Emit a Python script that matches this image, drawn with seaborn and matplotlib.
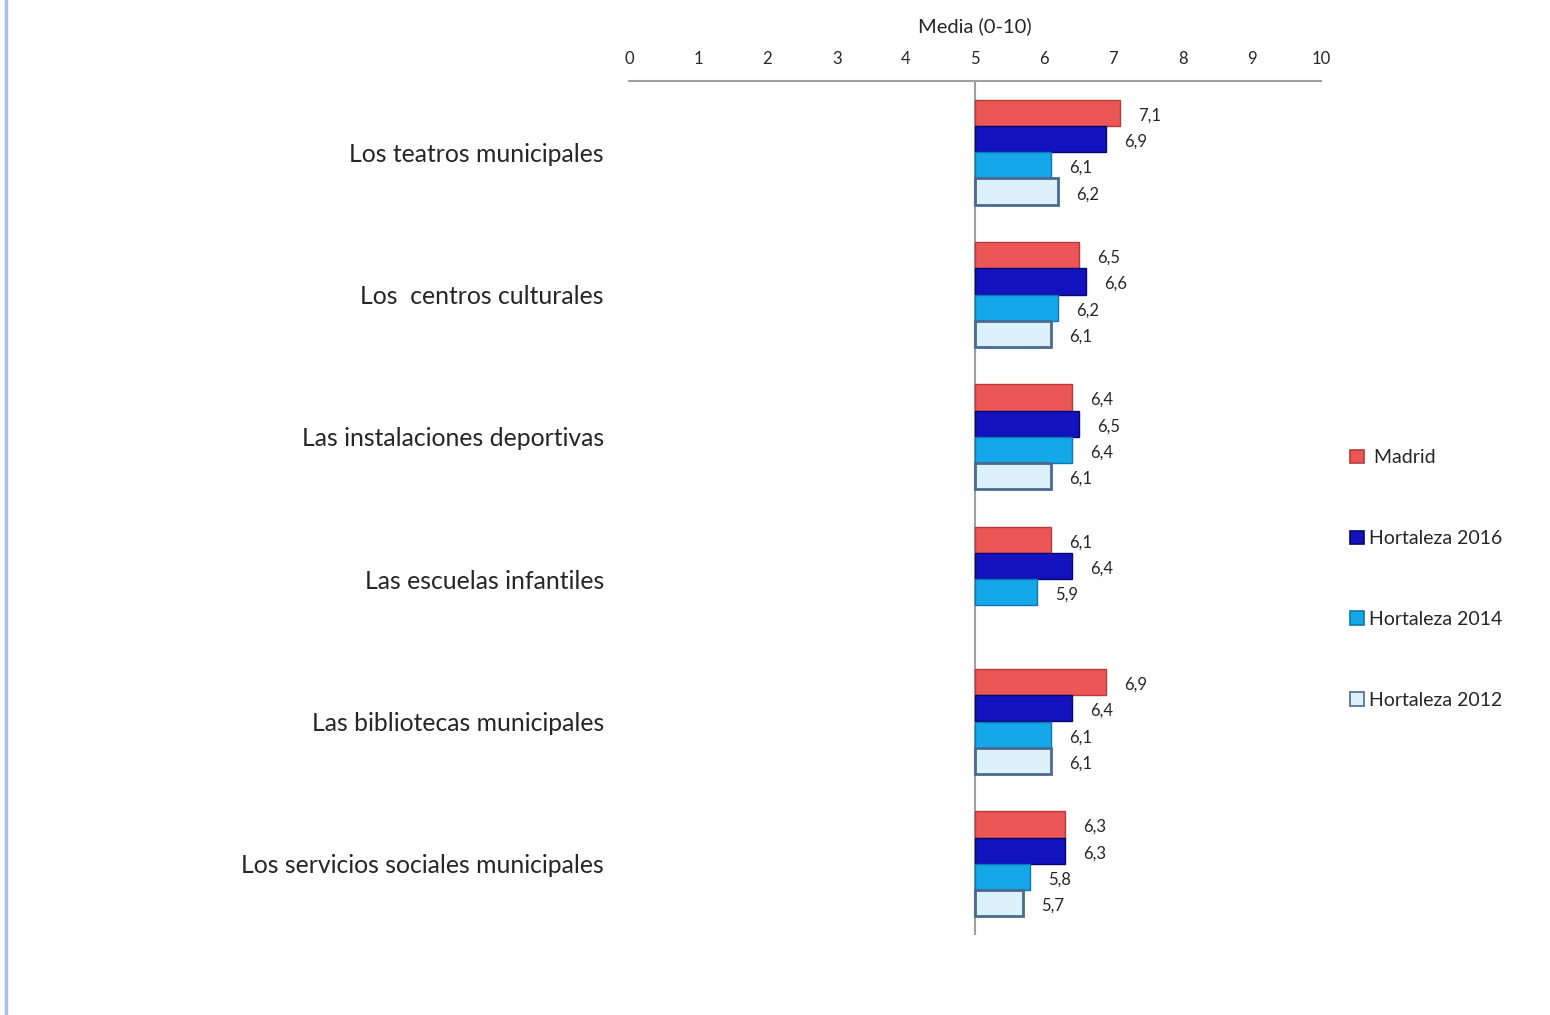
import numpy as np
import pandas as pd
import matplotlib
matplotlib.use("Agg")
import matplotlib.pyplot as plt
import seaborn as sns
from matplotlib.lines import Line2D
from matplotlib.patches import Patch

CATEGORIES = ["Los teatros municipales", "Los  centros culturales",
              "Las instalaciones deportivas", "Las escuelas infantiles",
              "Las bibliotecas municipales", "Los servicios sociales municipales"]
SERIES = ["Madrid", "Hortaleza 2016", "Hortaleza 2014", "Hortaleza 2012"]
MADRID = [7.1, 6.5, 6.4, 6.1, 6.9, 6.3]
H2016 = [6.9, 6.6, 6.5, 6.4, 6.4, 6.3]
H2014 = [6.1, 6.2, 6.4, 5.9, 6.1, 5.8]
H2012 = [6.2, 6.1, 6.1, np.nan, 6.1, 5.7]   # no 2012 data for escuelas
XTICKS = list(range(0, 11))
BASE = 5  # the category axis crosses the value axis at 5

FILL = {"Madrid": "#EC5656", "Hortaleza 2016": "#1212BE",
        "Hortaleza 2014": "#14A8EA", "Hortaleza 2012": "#DDF1FB"}
EDGE = {"Madrid": "#B83A3A", "Hortaleza 2016": "#07076E",
        "Hortaleza 2014": "#0B78B0", "Hortaleza 2012": "#4A6A8E"}

rows = []
for s, vals in zip(SERIES, [MADRID, H2016, H2014, H2012]):
    for c, v in zip(CATEGORIES, vals):
        rows.append((c, s, v))
df = pd.DataFrame(rows, columns=["cat", "serie", "valor"]).dropna()
df["delta"] = df["valor"] - BASE

sns.set_style("white")
plt.rcParams["font.family"] = ["Lato", "DejaVu Sans"]

fig = plt.figure(figsize=(15.5, 10.15), dpi=100)
ax = fig.add_axes([629 / 1550, 1 - 935 / 1015, 692 / 1550, 854 / 1015])

sns.barplot(data=df, y="cat", x="delta", hue="serie", order=CATEGORIES,
            hue_order=SERIES, palette=FILL, orient="h", width=0.74,
            errorbar=None, saturation=1, left=BASE, legend=False, ax=ax)

for s, cont in zip(SERIES, ax.containers):
    for bar in cont:
        bar.set_edgecolor(EDGE[s])
        bar.set_linewidth(2.0 if s == "Hortaleza 2012" else 1.0)
    labels = [f"{BASE + b.get_width():.1f}".replace(".", ",") for b in cont]
    txts = ax.bar_label(cont, labels=labels, padding=13, fontsize=12)
    for t in txts:
        t.xyann = (t.xyann[0], t.xyann[1] - 2)   # nudge down a touch

ax.set_xlim(0, 10)
ax.set_ylim(5.5, -0.5)
ax.set_xticks(XTICKS)
ax.xaxis.tick_top()
ax.xaxis.set_label_position("top")
ax.set_xlabel("Media (0-10)", fontsize=14.5, labelpad=14)
ax.set_ylabel("")
ax.tick_params(axis="x", length=0, pad=10, labelsize=12)
ax.tick_params(axis="y", length=0, pad=18, labelsize=17.8)
for side in ["left", "right", "bottom"]:
    ax.spines[side].set_visible(False)
ax.spines["top"].set_color("#A0A0A0")
ax.spines["top"].set_linewidth(1.5)
ax.axvline(BASE, color="#A0A0A0", lw=1.5, zorder=0)

handles = [Patch(facecolor=FILL[s], edgecolor=EDGE[s], lw=1.2) for s in SERIES]
names = [" Madrid"] + SERIES[1:]
fig.legend(handles, names, loc="center left", bbox_to_anchor=(1350 / 1550, 1 - 579 / 1015),
           frameon=False, fontsize=14, labelspacing=3.28, handlelength=0.7,
           handleheight=0.7, handletextpad=0.3, borderpad=0, borderaxespad=0)

fig.add_artist(Line2D([6 / 1550, 6 / 1550], [0, 1], transform=fig.transFigure,
                      color="#A9C4E2", lw=2.5))

fig.savefig("out.png", dpi=100)
